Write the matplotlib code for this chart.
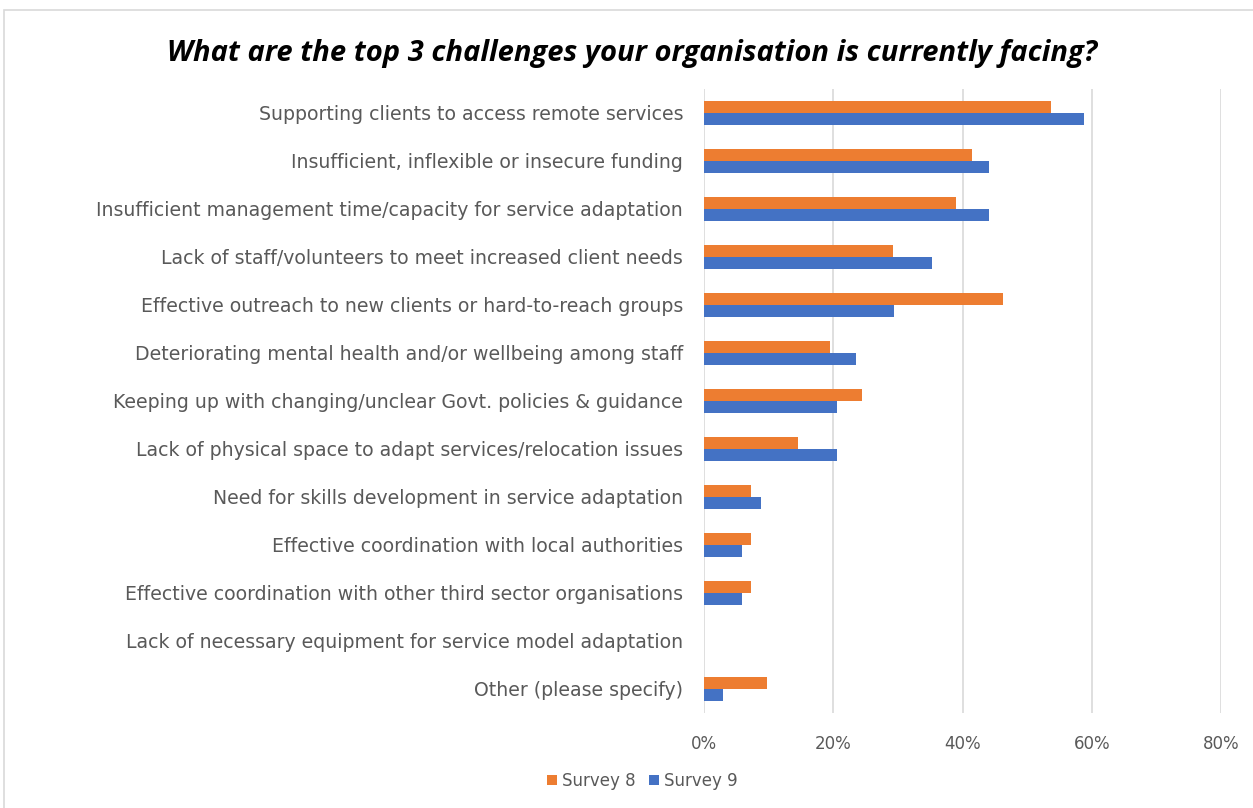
import matplotlib
matplotlib.use("Agg")
import matplotlib.pyplot as plt
from matplotlib.patches import Rectangle
from matplotlib.ticker import FuncFormatter, MultipleLocator

categories = [
    "Supporting clients to access remote services",
    "Insufficient, inflexible or insecure funding",
    "Insufficient management time/capacity for service adaptation",
    "Lack of staff/volunteers to meet increased client needs",
    "Effective outreach to new clients or hard-to-reach groups",
    "Deteriorating mental health and/or wellbeing among staff",
    "Keeping up with changing/unclear Govt. policies & guidance",
    "Lack of physical space to adapt services/relocation issues",
    "Need for skills development in service adaptation",
    "Effective coordination with local authorities",
    "Effective coordination with other third sector organisations",
    "Lack of necessary equipment for service model adaptation",
    "Other (please specify)",
]
survey8 = [53.7, 41.5, 39.0, 29.3, 46.3, 19.5, 24.4, 14.6, 7.3, 7.3, 7.3, 0.0, 9.8]
survey9 = [58.8, 44.1, 44.1, 35.3, 29.4, 23.5, 20.6, 20.6, 8.8, 5.9, 5.9, 0.0, 2.9]
series_names = ["Survey 8", "Survey 9"]
title = "What are the top 3 challenges your organisation is currently facing?"

ORANGE = "#ED7D31"
BLUE = "#4472C4"
TEXT = "#595959"
LABEL_FONT = "DejaVu Sans"

W, H = 1253, 808
fig = plt.figure(figsize=(W / 100, H / 100), dpi=100)

# outer chart frame (open at the right and bottom edges)
fig.patches.append(Rectangle((4 / W, -0.2), 1.2, 1.2 - 10 / H, transform=fig.transFigure,
                             fill=False, edgecolor="#D9D9D9", linewidth=1.2))

ax = fig.add_axes([704 / W, 1 - 713 / H, (1221 - 704) / W, (713 - 89) / H])

n = len(categories)
pos = list(range(n))
h = 0.25
ax.barh([p - h / 2 for p in pos], survey8, height=h, color=ORANGE, label=series_names[0], zorder=3)
ax.barh([p + h / 2 for p in pos], survey9, height=h, color=BLUE, label=series_names[1], zorder=3)

ax.set_ylim(n - 0.5, -0.5)
ax.set_xlim(0, 80)
ax.set_yticks(pos)
ax.set_yticklabels(categories, fontsize=13.6, color=TEXT, family=LABEL_FONT)
ax.xaxis.set_major_locator(MultipleLocator(20))
ax.xaxis.set_major_formatter(FuncFormatter(lambda v, _: f"{v:.0f}%"))
for lbl in ax.get_xticklabels():
    lbl.set_fontsize(12)
    lbl.set_color(TEXT)
    lbl.set_family(LABEL_FONT)
ax.tick_params(axis="both", length=0)
ax.tick_params(axis="y", pad=15)
ax.tick_params(axis="x", pad=16)
ax.grid(axis="x", color="#D9D9D9", linewidth=1.2, zorder=0)
for s in ax.spines.values():
    s.set_visible(False)

fig.text(632 / W, 1 - 53 / H, title, ha="center", va="center", fontsize=21,
         fontweight="bold", style="italic", family="Open Sans", color="black")

leg = fig.legend(loc="center", bbox_to_anchor=(642 / W, 1 - 781 / H), ncol=2, frameon=False,
                 handlelength=0.6, handleheight=0.6, handletextpad=0.3,
                 columnspacing=0.8, prop={"family": LABEL_FONT, "size": 12})
for t in leg.get_texts():
    t.set_color(TEXT)

fig.savefig("out.png", dpi=100, facecolor="white")
